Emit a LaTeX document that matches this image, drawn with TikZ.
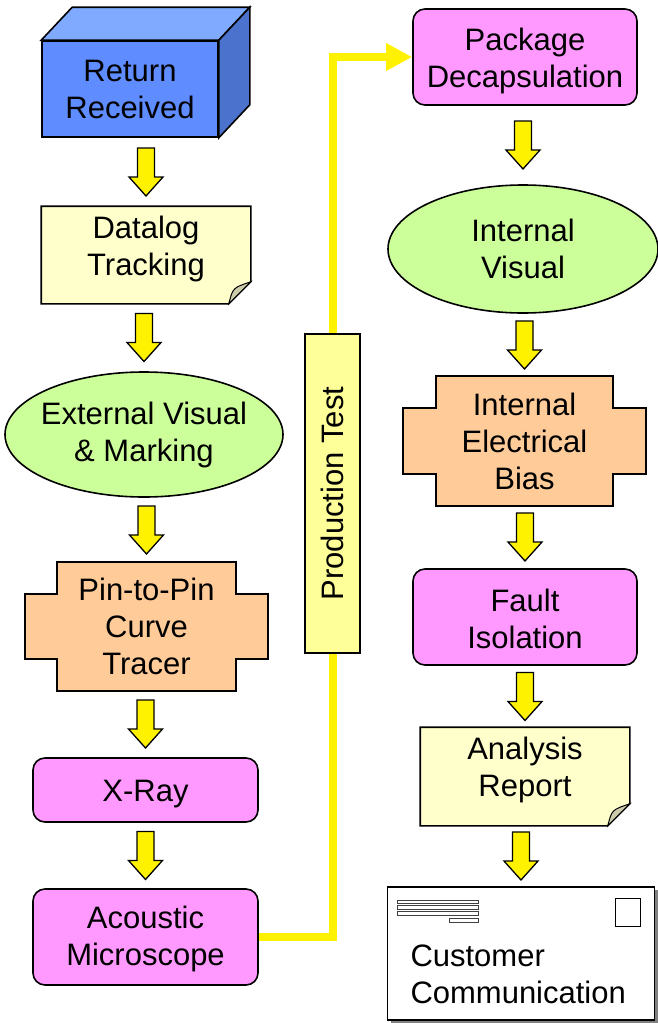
\documentclass[tikz,border=0pt]{standalone}
\usepackage{fontspec}
\setmainfont{Liberation Sans}
\usepackage{graphicx}
\usetikzlibrary{shapes.geometric,arrows.meta,calc}

\pgfdeclarelayer{bg}
\pgfsetlayers{bg,main}

\definecolor{cubefront}{RGB}{95,140,255}
\definecolor{cubetop}{RGB}{128,170,255}
\definecolor{cubeside}{RGB}{75,115,205}
\definecolor{notecol}{RGB}{255,255,204}
\definecolor{foldcol}{RGB}{204,204,170}
\definecolor{ovalcol}{RGB}{204,255,153}
\definecolor{pluscol}{RGB}{255,204,153}
\definecolor{stepcol}{RGB}{255,153,255}
\definecolor{testcol}{RGB}{255,255,153}
\definecolor{shadecol}{RGB}{128,128,128}

% yellow block arrow between two nodes
\newcommand{\flowarrow}[2]{%
  \path ($(#1.south)!0.5!(#2.north)$) coordinate (m);
  \draw[blockarrow] (m -| #2.north) ++(-8.5,-24) -- ++(17,0) -- ++(0,29)
    -- ++(8.5,0) -- ++(-17,19) -- ++(-17,-19) -- ++(8.5,0) -- cycle;}

\begin{document}
\begin{tikzpicture}[x=1pt, y=-1pt, line width=1.6pt,
  every node/.style={font=\fontsize{31}{37}\selectfont, align=center, inner sep=2pt},
  stepbox/.style={rectangle, rounded corners=12pt, draw, fill=stepcol},
  ovalbox/.style={ellipse, draw, fill=ovalcol, inner xsep=-12pt, inner ysep=0pt},
  notebox/.style={rectangle, text depth=19pt},
  plusbox/.style={rectangle},
  outline/.style={draw=black, line width=1.6pt},
  blockarrow/.style={draw, fill=yellow, line width=1.3pt},
  testline/.style={draw=yellow, line width=8pt}]
\useasboundingbox (0,0) rectangle (658,1023);

% left column
\node [rectangle, draw, fill=cubefront, minimum width=176pt, minimum height=96pt] (ret) at (130,89) {Return\\Received};
\draw [fill=cubetop] (ret.north west) -- ([shift={(31pt,33pt)}]ret.north west) -- ([shift={(31pt,33pt)}]ret.north east) -- (ret.north east) -- cycle;
\draw [fill=cubeside] (ret.north east) -- ([shift={(31pt,33pt)}]ret.north east) -- ([shift={(31pt,33pt)}]ret.south east) -- (ret.south east) -- cycle;
\node [notebox, minimum width=208pt, minimum height=96pt] (dlog) at (146,255) {Datalog\\Tracking};
\node [ovalbox, minimum width=278pt, minimum height=125pt] (ext) at (144,434.5) {External Visual\\\& Marking};
\node [plusbox, minimum width=241pt, minimum height=127pt] (pin) at (146.5,626.5) {Pin-to-Pin\\Curve\\Tracer};
\node [stepbox, minimum width=225pt, minimum height=64pt, text height=30pt] (xray) at (145.5,790) {X-Ray};
\node [stepbox, minimum width=225pt, minimum height=96pt, text height=64pt] (acou) at (145.5,937) {Acoustic\\Microscope};

\node [rectangle, draw, fill=testcol, minimum width=55pt, minimum height=319pt] (ptest) at (332.5,493.5) {\rotatebox{90}{Production Test}};

% right column
\node [stepbox, minimum width=224pt, minimum height=96pt, text height=68pt] (pkg) at (525,57) {Package\\Decapsulation};
\node [ovalbox, minimum width=270pt, minimum height=128pt] (intv) at (523,249) {Internal\\Visual};
\node [plusbox, minimum width=241pt, minimum height=128pt] (bias) at (524.5,441) {Internal\\Electrical\\Bias};
\node [stepbox, minimum width=224pt, minimum height=96pt, text height=64pt] (fault) at (525,617) {Fault\\Isolation};
\node [notebox, minimum width=208pt, minimum height=97pt] (rep) at (525,776.5) {Analysis\\Report};
\node [rectangle, draw, fill=white, minimum width=267pt, minimum height=133pt, text width=221pt, align=left, inner sep=0pt] (env) at (521,953.5) {\rule{0pt}{63pt}Customer\\Communication};

\begin{pgfonlayer}{bg}
% notes
\draw [outline, fill=notecol] (dlog.north west) -- (dlog.north east) -- ([yshift=22pt]dlog.south east) -- ([xshift=-22pt]dlog.south east) -- (dlog.south west) -- cycle;
\draw [draw=black, line width=1pt, fill=foldcol] ([yshift=22pt]dlog.south east) .. controls ([shift={(-18pt,16pt)}]dlog.south east) .. ([xshift=-22pt]dlog.south east) -- cycle;
\draw [outline, fill=notecol] (rep.north west) -- (rep.north east) -- ([yshift=22pt]rep.south east) -- ([xshift=-22pt]rep.south east) -- (rep.south west) -- cycle;
\draw [draw=black, line width=1pt, fill=foldcol] ([yshift=22pt]rep.south east) .. controls ([shift={(-18pt,16pt)}]rep.south east) .. ([xshift=-22pt]rep.south east) -- cycle;
% plus shapes
\draw [outline, fill=pluscol] ([xshift=32pt]pin.north west) -- ([xshift=-32pt]pin.north east) -- ([shift={(-32pt,-32pt)}]pin.north east) -- ([yshift=-32pt]pin.north east) -- ([yshift=32pt]pin.south east) -- ([shift={(-32pt,32pt)}]pin.south east) -- ([xshift=-32pt]pin.south east) -- ([xshift=32pt]pin.south west) -- ([shift={(32pt,32pt)}]pin.south west) -- ([yshift=32pt]pin.south west) -- ([yshift=-32pt]pin.north west) -- ([shift={(32pt,-32pt)}]pin.north west) -- cycle;
\draw [outline, fill=pluscol] ([xshift=33pt]bias.north west) -- ([xshift=-33pt]bias.north east) -- ([shift={(-33pt,-32pt)}]bias.north east) -- ([yshift=-32pt]bias.north east) -- ([yshift=32pt]bias.south east) -- ([shift={(-33pt,32pt)}]bias.south east) -- ([xshift=-33pt]bias.south east) -- ([xshift=33pt]bias.south west) -- ([shift={(33pt,32pt)}]bias.south west) -- ([yshift=32pt]bias.south west) -- ([yshift=-32pt]bias.north west) -- ([shift={(33pt,-32pt)}]bias.north west) -- cycle;
% envelope shadow
\fill [shadecol] ([shift={(4pt,-4pt)}]env.south west) rectangle ([shift={(4pt,-4pt)}]env.north east);
\end{pgfonlayer}

% envelope address lines and stamp
\draw [line width=0.8pt, draw=black!75, fill=white] ([shift={(11pt,-13.7pt)}]env.north west) rectangle ([shift={(92pt,-17.3pt)}]env.north west);
\draw [line width=0.8pt, draw=black!75, fill=white] ([shift={(11pt,-19.3pt)}]env.north west) rectangle ([shift={(92pt,-23pt)}]env.north west);
\draw [line width=0.8pt, draw=black!75, fill=white] ([shift={(11pt,-25.3pt)}]env.north west) rectangle ([shift={(92pt,-29pt)}]env.north west);
\draw [line width=0.8pt, draw=black!75, fill=white] ([shift={(63pt,-32pt)}]env.north west) rectangle ([shift={(92pt,-35.7pt)}]env.north west);
\draw [line width=1pt] ([shift={(229pt,-12pt)}]env.north west) rectangle ([shift={(254pt,-40pt)}]env.north west);

% flow arrows
\flowarrow{ret}{dlog}
\flowarrow{dlog}{ext}
\flowarrow{ext}{pin}
\flowarrow{pin}{xray}
\flowarrow{xray}{acou}
\flowarrow{pkg}{intv}
\flowarrow{intv}{bias}
\flowarrow{bias}{fault}
\flowarrow{fault}{rep}
\flowarrow{rep}{env}

% production test path
\draw [testline] (acou.east) -| (ptest.south);
\draw [testline, -{Triangle[length=26pt,width=26pt]}] (ptest.north) |- (pkg.west);
\end{tikzpicture}
\end{document}
